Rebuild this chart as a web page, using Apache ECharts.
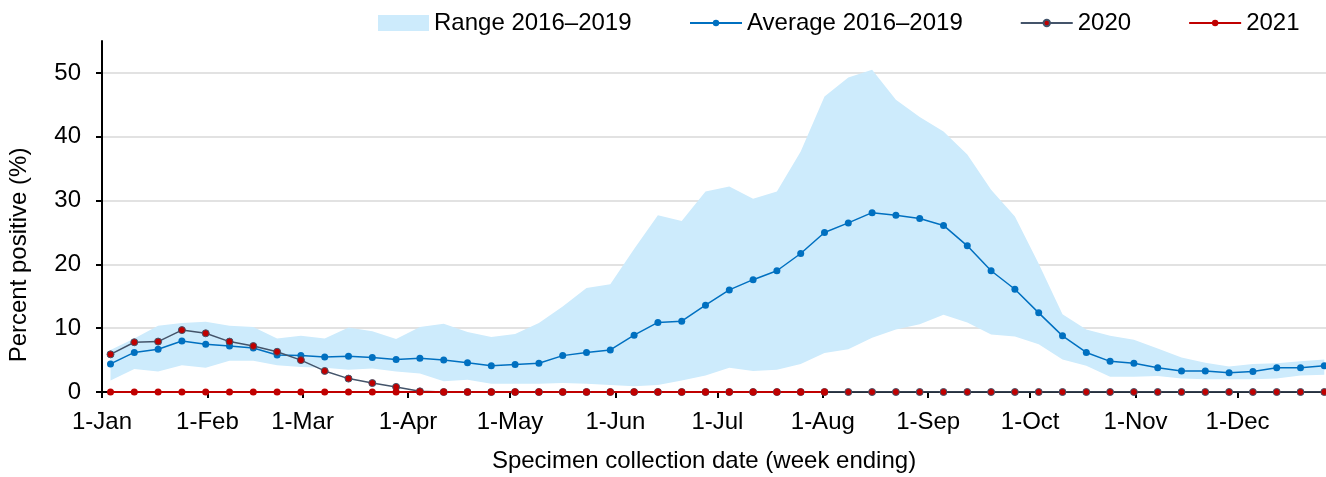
<!DOCTYPE html>
<html>
<head>
<meta charset="utf-8">
<style>
    html, body { margin: 0; padding: 0; background: #fff; }
    #echarts { width: 1326px; height: 477px; }
</style>
</head>
<body>
<div id="echarts"></div>
<script src="https://cdn.jsdelivr.net/npm/echarts@6/dist/echarts.min.js"></script>
<script>
    // month ticks (day of year, 0 = 1-Jan)
    const monthDays = [0, 31, 59, 90, 120, 151, 181, 212, 243, 273, 304, 334];
    const monthLabels = ['1-Jan', '1-Feb', '1-Mar', '1-Apr', '1-May', '1-Jun', '1-Jul', '1-Aug', '1-Sep', '1-Oct', '1-Nov', '1-Dec'];
    const yTicks = [0, 10, 20, 30, 40, 50];

    // weekly values, week 1 .. week 52
    const avgValues = [4.4, 6.2, 6.7, 8.0, 7.5, 7.2, 6.9, 5.8, 5.7, 5.5, 5.6, 5.4, 5.1, 5.3, 5.0, 4.6, 4.1, 4.3, 4.5, 5.7,
        6.2, 6.6, 8.9, 10.9, 11.1, 13.6, 16.0, 17.6, 19.0, 21.7, 25.0, 26.5, 28.1, 27.7, 27.2, 26.1, 22.9, 19.0, 16.1, 12.4,
        8.8, 6.2, 4.8, 4.5, 3.8, 3.3, 3.3, 3.0, 3.2, 3.8, 3.8, 4.1];
    const rangeHigh = [6.6, 8.4, 10.4, 10.8, 11.0, 10.4, 10.2, 8.4, 8.8, 8.4, 10.1, 9.5, 8.3, 10.2, 10.7, 9.4, 8.6, 9.1, 10.8, 13.4,
        16.3, 16.9, 22.4, 27.7, 26.8, 31.4, 32.2, 30.3, 31.4, 37.7, 46.3, 49.3, 50.5, 45.8, 43.1, 40.8, 37.2, 31.7, 27.5, 20.1,
        12.2, 9.8, 8.8, 8.2, 6.8, 5.4, 4.6, 4.0, 4.4, 4.5, 4.8, 5.1];
    const rangeLow = [1.8, 3.6, 3.2, 4.2, 3.8, 4.9, 4.9, 4.2, 3.9, 3.8, 3.5, 3.7, 3.2, 2.9, 1.7, 1.9, 1.3, 1.3, 1.3, 1.4,
        1.3, 1.1, 0.9, 1.1, 1.8, 2.6, 3.8, 3.3, 3.5, 4.4, 6.1, 6.7, 8.5, 9.8, 10.6, 12.1, 10.9, 9.0, 8.7, 7.5,
        5.1, 4.1, 2.4, 2.4, 2.5, 2.1, 2.0, 2.0, 2.0, 2.1, 2.6, 2.7];
    const values2020 = [5.9, 7.8, 7.9, 9.7, 9.2, 7.9, 7.2, 6.3, 5.0, 3.3, 2.1, 1.4, 0.8, 0.1, 0, 0, 0, 0, 0, 0,
        0, 0, 0, 0, 0, 0, 0, 0, 0, 0, 0, 0, 0, 0, 0, 0, 0, 0, 0, 0,
        0, 0, 0, 0, 0, 0, 0, 0, 0, 0, 0, 0];
    const values2021 = [0, 0, 0, 0, 0, 0, 0, 0, 0, 0, 0, 0, 0, 0, 0, 0, 0, 0, 0, 0,
        0, 0, 0, 0, 0, 0, 0, 0, 0, 0, 0];

    // week ending position on the day axis
    const weekDay = avgValues.map((v, i) => 2.5 + 7 * i);
    const pairs = arr => arr.map((v, i) => [weekDay[i], v]);

    const bandColor = '#CDEBFC';
    const font = 'Liberation Sans, Arial, sans-serif';

    let myChart = echarts.init(document.getElementById('echarts'));

    myChart.setOption({
        animation: false,
        textStyle: { fontFamily: font },
        grid: { left: 102, right: 0, top: 41, bottom: 85, containLabel: false, outerBoundsMode: 'none' },
        legend: [{
            data: [{ name: 'Range 2016–2019', icon: 'rect' }],
            left: 378, top: 11, padding: 0,
            itemWidth: 51, itemHeight: 16,
            itemStyle: { color: bandColor, borderWidth: 0 },
            textStyle: { fontSize: 24, color: '#000', fontFamily: font },
            selectedMode: false
        }, {
            data: ['Average 2016–2019', '2020', '2021'],
            left: 689, top: 11, padding: 0,
            itemWidth: 52, itemHeight: 8, itemGap: 57,
            textStyle: { fontSize: 24, color: '#000', fontFamily: font },
            selectedMode: false
        }],
        xAxis: {
            type: 'value',
            min: 0,
            max: 360,
            axisLine: { lineStyle: { color: '#000', width: 2 } },
            axisTick: { customValues: monthDays, length: 6, lineStyle: { color: '#000', width: 2 } },
            axisLabel: {
                customValues: monthDays,
                formatter: v => monthLabels[monthDays.indexOf(v)],
                fontSize: 24, color: '#000', margin: 18, fontFamily: font
            },
            splitLine: { show: false }
        },
        yAxis: {
            type: 'value',
            min: 0,
            max: 55,
            interval: 10,
            axisLine: { show: true, lineStyle: { color: '#000', width: 2 } },
            axisTick: { show: true, customValues: yTicks, length: 6, lineStyle: { color: '#000', width: 2 } },
            axisLabel: { customValues: yTicks, fontSize: 24, color: '#000', margin: 21, fontFamily: font },
            splitLine: { show: true, lineStyle: { color: '#D9D9D9', width: 1.5 } }
        },
        graphic: [{
            type: 'text', x: 19, y: 255, rotation: Math.PI / 2,
            style: { text: 'Percent positive (%)', fill: '#000', font: '24px ' + font, align: 'center', verticalAlign: 'middle' }
        }, {
            type: 'text', x: 704, y: 461,
            style: { text: 'Specimen collection date (week ending)', fill: '#000', font: '24px ' + font, align: 'center', verticalAlign: 'middle' }
        }],
        series: [{
            type: 'custom',
            name: 'Range 2016–2019',
            data: [[0, 0]],
            encode: { x: 0, y: 1 },
            itemStyle: { color: bandColor },
            silent: true,
            renderItem: function (params, api) {
                let pts = [];
                for (let i = 0; i < rangeHigh.length; i++) pts.push(api.coord([weekDay[i], rangeHigh[i]]));
                for (let i = rangeLow.length - 1; i >= 0; i--) pts.push(api.coord([weekDay[i], rangeLow[i]]));
                return { type: 'polygon', shape: { points: pts }, style: { fill: bandColor } };
            }
        }, {
            type: 'line',
            name: 'Average 2016–2019',
            data: pairs(avgValues),
            symbol: 'circle', symbolSize: 7,
            lineStyle: { color: '#0070C0', width: 1.5 },
            itemStyle: { color: '#0070C0' },
            silent: true
        }, {
            type: 'line',
            name: '2020',
            data: pairs(values2020),
            symbol: 'circle', symbolSize: 7,
            lineStyle: { color: '#44546A', width: 1.5 },
            itemStyle: { color: '#C00000', borderColor: '#44546A', borderWidth: 1 },
            silent: true
        }, {
            type: 'line',
            name: '2021',
            data: pairs(values2021),
            symbol: 'circle', symbolSize: 7,
            lineStyle: { color: '#C00000', width: 2 },
            itemStyle: { color: '#C00000' },
            silent: true
        }]
    });
</script>
</body>
</html>
